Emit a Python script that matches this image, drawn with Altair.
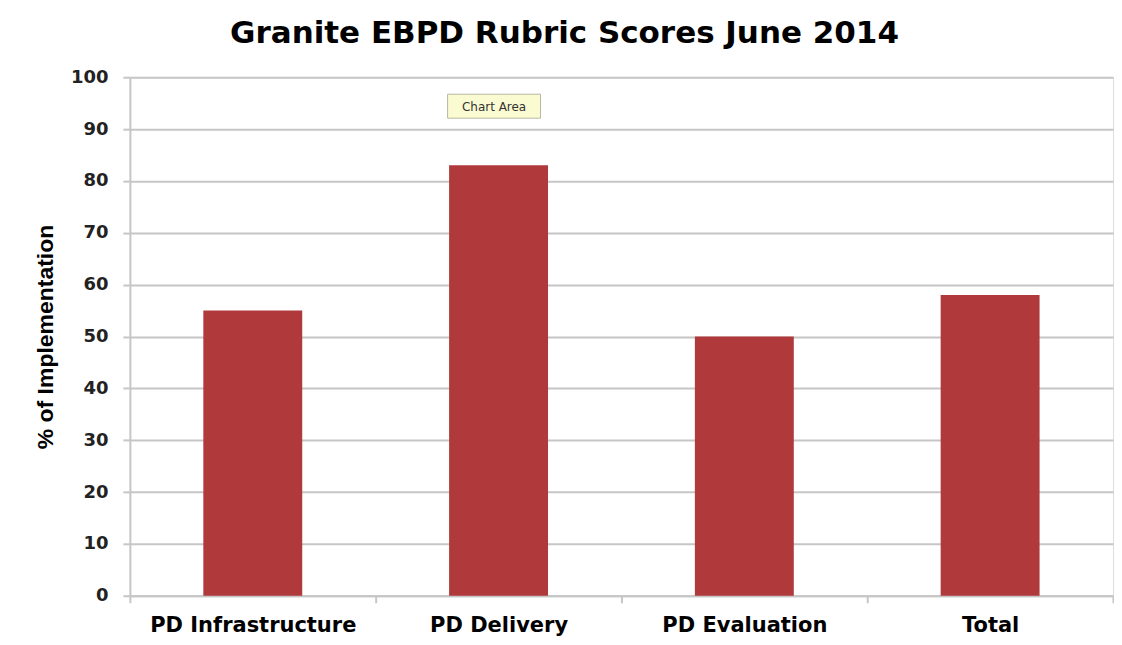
import altair as alt
import pandas as pd

categories = ["PD Infrastructure", "PD Delivery", "PD Evaluation", "Total"]
scores = [55, 83, 50, 58]
title_text = "Granite EBPD Rubric Scores June 2014"
y_title = "% of Implementation"
y_ticks = [0, 10, 20, 30, 40, 50, 60, 70, 80, 90, 100]
tooltip_text = ["Chart Area"]

df = pd.DataFrame({"category": categories, "score": scores})

GRID = "#c6c6c6"
FONT = "DejaVu Sans"

bars = alt.Chart(df).mark_bar(color="#b0393c", size=99).encode(
    x=alt.X(
        "category:N",
        sort=categories,
        title=None,
        scale=alt.Scale(paddingInner=0, paddingOuter=0),
        axis=alt.Axis(
            labelAngle=0,
            labelFont=FONT,
            labelFontWeight="bold",
            labelFontSize=21,
            labelColor="#000000",
            labelPadding=12,
            labelLimit=0,
            tickBand="extent",
            tickSize=7,
            tickColor=GRID,
            tickWidth=2,
            domainColor=GRID,
            domainWidth=2,
            grid=False,
        ),
    ),
    y=alt.Y(
        "score:Q",
        title=y_title,
        scale=alt.Scale(domain=[0, 100], nice=False),
        axis=alt.Axis(
            values=y_ticks,
            labelFont=FONT,
            labelFontWeight="bold",
            labelFontSize=18,
            labelColor="#222222",
            labelPadding=15,
            tickSize=7,
            tickColor=GRID,
            tickWidth=2,
            domainColor=GRID,
            domainWidth=2,
            gridColor=GRID,
            gridWidth=2,
            titleFont="Liberation Sans",
            titleFontWeight="bold",
            titleFontSize=23,
            titleColor="#000000",
            titlePadding=13,
        ),
    ),
)

tip_df = pd.DataFrame({"label": tooltip_text})
tip_box = alt.Chart(tip_df).mark_rect(
    fill="#fbfbd2", stroke="#b8b8a0", strokeWidth=1
).encode(
    x=alt.value(318), x2=alt.value(411), y=alt.value(17), y2=alt.value(41)
)
tip_text = alt.Chart(tip_df).mark_text(
    font="DejaVu Sans", fontSize=12, color="#333333", align="center", baseline="middle"
).encode(x=alt.value(364.5), y=alt.value(29.5), text="label:N")

chart = alt.layer(bars, tip_box, tip_text).properties(
    width=984,
    height=519,
    title=alt.TitleParams(
        text=title_text,
        font=FONT,
        fontWeight="bold",
        fontSize=31,
        color="#000000",
        anchor="middle",
        dx=-57,
        offset=18,
    ),
    padding={"left": 26, "top": 10, "right": 0, "bottom": 5},
).configure_view(stroke=None).configure(background="white")

chart.save("out.html", embed_options={"renderer": "svg", "actions": False})
